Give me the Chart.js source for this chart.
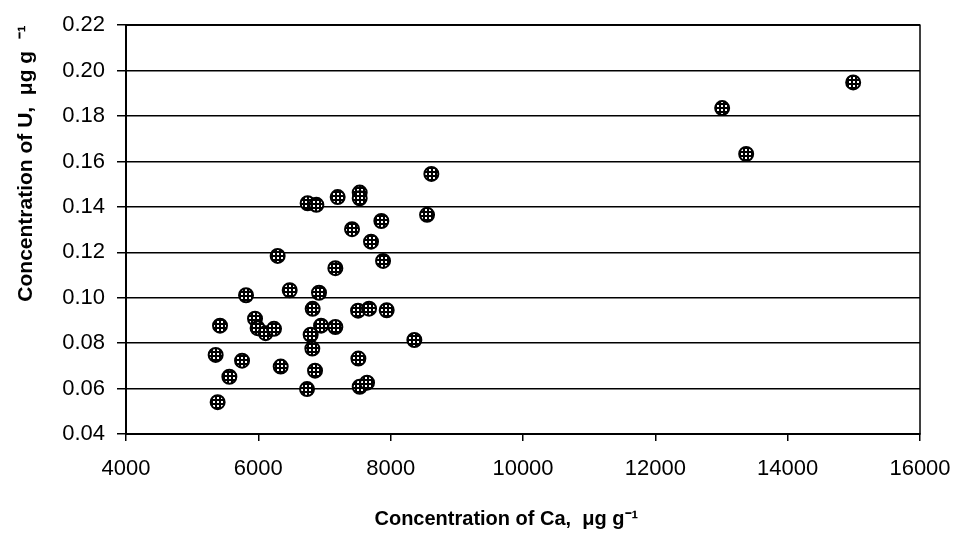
<!DOCTYPE html>
<html>
<head>
<meta charset="utf-8">
<script src="https://cdn.jsdelivr.net/npm/chart.js@4"></script>
<style>
  html, body { margin: 0; padding: 0; background: #fff; }
  #wrap { width: 959px; height: 538px; }
</style>
</head>
<body>
<div id="wrap"><canvas id="scatter" width="959" height="538"></canvas></div>
<script>
// Ca (ug/g) and U (ug/g)
const caValues = [6745, 6877, 7199, 7532, 7532, 8615, 8550, 7859, 7416, 7703,
  13010, 13373, 14990,
  6292, 7885, 7164, 5814, 6474, 6917, 6821, 7507, 7673, 7940,
  5421, 5950, 5989, 6110, 6237, 6948, 7164, 6791, 6816, 8358,
  5355, 5754, 6338, 7512, 5562, 6857, 6736, 7532, 7643, 5385];
const uValues = [0.1416, 0.1409, 0.1443, 0.1463, 0.1438, 0.1545, 0.1365, 0.1338, 0.1302, 0.1247,
  0.1835, 0.1633, 0.1948,
  0.1184, 0.1162, 0.1130, 0.1011, 0.1033, 0.1022, 0.0951, 0.0943, 0.0952, 0.0945,
  0.0877, 0.0908, 0.0866, 0.0844, 0.0863, 0.0877, 0.0871, 0.0837, 0.0776, 0.0814,
  0.0748, 0.0723, 0.0697, 0.0732, 0.0652, 0.0679, 0.0598, 0.0608, 0.0626, 0.0540];
const xTicks = [4000, 6000, 8000, 10000, 12000, 14000, 16000];
const yTicks = [0.04, 0.06, 0.08, 0.10, 0.12, 0.14, 0.16, 0.18, 0.20, 0.22];

const points = caValues.map((ca, i) => ({ x: ca, y: uValues[i] }));

// dark marker fill with small white squares
function hatch() {
  const c = document.createElement('canvas');
  c.width = 4; c.height = 4;
  const g = c.getContext('2d');
  g.fillStyle = '#000';
  g.fillRect(0, 0, 4, 4);
  g.fillStyle = '#fff';
  g.fillRect(1, 1, 2, 2);
  return g.createPattern(c, 'repeat');
}

// box round the plot area
const frame = {
  id: 'frame',
  afterDraw(chart) {
    const a = chart.chartArea, ctx = chart.ctx;
    ctx.save();
    ctx.strokeStyle = '#000';
    ctx.lineWidth = 1.5;
    ctx.strokeRect(a.left, a.top, a.right - a.left, a.bottom - a.top);
    ctx.restore();
  }
};

const font = { family: 'Liberation Sans, Arial, sans-serif', size: 22 };

new Chart(document.getElementById('scatter'), {
  type: 'scatter',
  data: {
    datasets: [{
      data: points,
      pointRadius: 7,
      pointHoverRadius: 7,
      pointBackgroundColor: hatch(),
      pointBorderColor: '#000',
      pointBorderWidth: 2
    }]
  },
  options: {
    responsive: false,
    animation: false,
    layout: { padding: { left: 0, top: 25, right: 39, bottom: 0 } },
    plugins: { legend: { display: false }, tooltip: { enabled: false } },
    scales: {
      x: {
        type: 'linear',
        min: xTicks[0],
        max: xTicks[xTicks.length - 1],
        afterBuildTicks: s => { s.ticks = xTicks.map(v => ({ value: v })); },
        afterFit: s => { s.height = 104; s.paddingLeft = 0; s.paddingRight = 0; },
        ticks: { font: font, color: '#000', padding: 15, maxRotation: 0, callback: v => String(v) },
        grid: { drawOnChartArea: false, tickLength: 7, color: '#000', lineWidth: 1.5 },
        border: { color: '#000', width: 2 },
        title: {
          display: true,
          text: 'Concentration of Ca,  μg g⁻¹      ',
          font: { family: 'Liberation Sans, Arial, sans-serif', size: 20, weight: 'bold' },
          color: '#000',
          padding: { top: 0, bottom: 7 }
        }
      },
      y: {
        type: 'linear',
        min: yTicks[0],
        max: yTicks[yTicks.length - 1],
        afterBuildTicks: s => { s.ticks = yTicks.map(v => ({ value: v })); },
        afterFit: s => { s.width = 126; },
        ticks: { font: font, color: '#000', padding: 12, callback: v => v.toFixed(2) },
        grid: { color: '#000', lineWidth: 1.5, tickLength: 9 },
        border: { color: '#000', width: 2 },
        title: {
          display: true,
          align: 'end',
          text: 'Concentration of U,  μg g  ⁻¹',
          font: { family: 'Liberation Sans, Arial, sans-serif', size: 21, weight: 'bold' },
          color: '#000',
          padding: { top: 14, bottom: 0 }
        }
      }
    }
  },
  plugins: [frame]
});
</script>
</body>
</html>
